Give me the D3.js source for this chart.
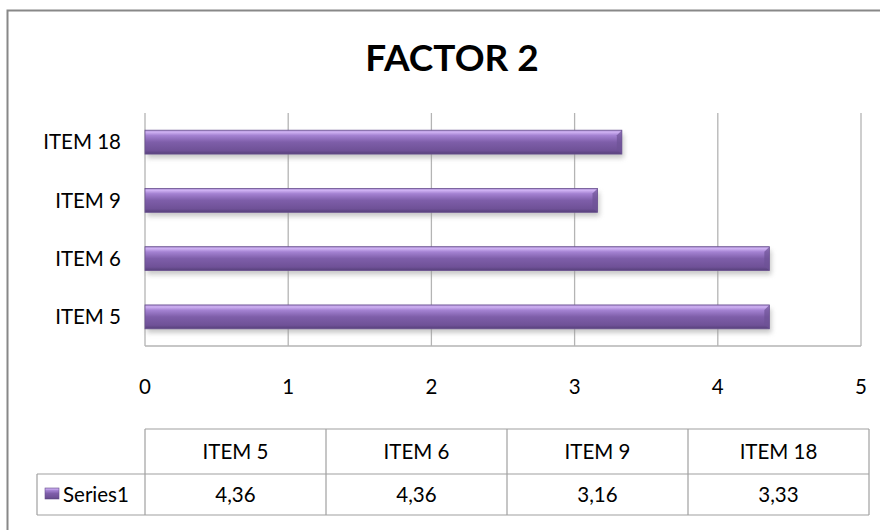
<!DOCTYPE html>
<html>
<head>
<meta charset="utf-8">
<title>FACTOR 2</title>
<style>
  body { margin: 0; background: #fff; }
  text { font-family: Lato, "Open Sans", sans-serif; fill: #000; }
</style>
</head>
<body>
<div id="chart"></div>
<script src="https://cdn.jsdelivr.net/npm/d3@7"></script>
<script>
var categories = ['ITEM 5', 'ITEM 6', 'ITEM 9', 'ITEM 18'];
var values = [4.36, 4.36, 3.16, 3.33];
var valueLabels = ['4,36', '4,36', '3,16', '3,33'];
var ticks = [0, 1, 2, 3, 4, 5];
var seriesName = 'Series1';

var width = 880, height = 530;
var plot = { left: 145, right: 861, top: 113, bottom: 346 };
var fs = '20.5px';

var svg = d3.select('#chart').append('svg')
  .attr('width', width).attr('height', height);

var defs = svg.append('defs');
var grad = defs.append('linearGradient').attr('id', 'barGrad')
  .attr('x1', 0).attr('y1', 0).attr('x2', 0).attr('y2', 1);
[[0, '#a98bd0'], [0.08, '#cfb2f3'], [0.22, '#a482d2'], [0.5, '#7e5ea9'],
 [0.85, '#6f5197'], [1, '#56407a']].forEach(function(s) {
  grad.append('stop').attr('offset', s[0]).attr('stop-color', s[1]);
});
var blur = defs.append('filter').attr('id', 'shadow')
  .attr('x', '-5%').attr('y', '-50%').attr('width', '110%').attr('height', '200%');
blur.append('feGaussianBlur').attr('stdDeviation', 2.5);

// outer frame
svg.append('rect').attr('x', 7.5).attr('y', 10.5)
  .attr('width', 900).attr('height', 600)
  .attr('fill', 'none').attr('stroke', '#888').attr('stroke-width', 2);

svg.append('text').attr('x', 452).attr('y', 71)
  .attr('text-anchor', 'middle').style('font-size', '37px').style('font-weight', 'bold')
  .text('FACTOR 2');

var x = d3.scaleLinear().domain([0, 5]).range([plot.left, plot.right]);
var y = d3.scaleBand().domain(categories.slice().reverse())
  .range([plot.top, plot.bottom]).paddingInner(0.59).paddingOuter(0.295);

// gridlines
svg.append('g').selectAll('line').data(ticks).enter().append('line')
  .attr('x1', function(d) { return x(d); }).attr('x2', function(d) { return x(d); })
  .attr('y1', plot.top).attr('y2', plot.bottom)
  .attr('stroke', '#b4b4b4').attr('stroke-width', 1.3);
svg.append('line').attr('x1', plot.left).attr('x2', plot.right)
  .attr('y1', plot.bottom).attr('y2', plot.bottom)
  .attr('stroke', '#b4b4b4').attr('stroke-width', 1.3);

var data = categories.map(function(c, i) { return { cat: c, v: values[i] }; });

// shadows
svg.append('g').selectAll('rect').data(data).enter().append('rect')
  .attr('x', x(0) + 2).attr('y', function(d) { return y(d.cat) + 4; })
  .attr('width', function(d) { return x(d.v) - x(0); })
  .attr('height', y.bandwidth())
  .attr('fill', '#999').attr('opacity', 0.55).attr('filter', 'url(#shadow)');

svg.append('g').selectAll('rect').data(data).enter().append('rect')
  .attr('x', x(0)).attr('y', function(d) { return y(d.cat); })
  .attr('width', function(d) { return x(d.v) - x(0); })
  .attr('height', y.bandwidth())
  .attr('fill', 'url(#barGrad)').attr('stroke', '#6a5290').attr('stroke-width', 0.8);

// bevel at bar ends
svg.append('g').selectAll('path').data(data).enter().append('path')
  .attr('d', function(d) {
    var x1 = x(d.v), t = y(d.cat), h = y.bandwidth();
    return 'M' + (x1 - 5) + ',' + (t + 5) + 'L' + x1 + ',' + t + 'L' + x1 + ',' + (t + h) + 'L' + (x1 - 5) + ',' + (t + h - 4) + 'Z';
  })
  .attr('fill', '#6d5296').attr('opacity', 0.7);

// category labels
svg.append('g').selectAll('text').data(categories).enter().append('text')
  .attr('x', 121).attr('y', function(d) { return y(d) + y.bandwidth() / 2; })
  .attr('dy', '0.35em').attr('text-anchor', 'end').style('font-size', fs)
  .text(function(d) { return d; });

// value axis labels
svg.append('g').selectAll('text').data(ticks).enter().append('text')
  .attr('x', function(d) { return x(d); }).attr('y', 394)
  .attr('text-anchor', 'middle').style('font-size', fs)
  .text(function(d) { return d; });

// data table
var table = { left: 145, right: 869, top: 429, mid: 474, bottom: 515, legendLeft: 37 };
var col = d3.scaleBand().domain(categories).range([table.left, table.right]);
var tg = svg.append('g').attr('stroke', '#a0a0a0').attr('stroke-width', 1.2);
tg.append('line').attr('x1', table.left).attr('x2', table.right).attr('y1', table.top).attr('y2', table.top);
tg.append('line').attr('x1', table.legendLeft).attr('x2', table.right).attr('y1', table.mid).attr('y2', table.mid);
tg.append('line').attr('x1', table.legendLeft).attr('x2', table.right).attr('y1', table.bottom).attr('y2', table.bottom);
tg.append('line').attr('x1', table.legendLeft).attr('x2', table.legendLeft).attr('y1', table.mid).attr('y2', table.bottom);
tg.selectAll('line.v').data(categories.concat(['end'])).enter().append('line')
  .attr('x1', function(d) { return d === 'end' ? table.right : col(d); })
  .attr('x2', function(d) { return d === 'end' ? table.right : col(d); })
  .attr('y1', table.top).attr('y2', table.bottom);

svg.append('g').selectAll('text').data(categories).enter().append('text')
  .attr('x', function(d) { return col(d) + col.bandwidth() / 2; })
  .attr('y', (table.top + table.mid) / 2).attr('dy', '0.35em')
  .attr('text-anchor', 'middle').style('font-size', fs)
  .text(function(d) { return d; });
svg.append('g').selectAll('text').data(valueLabels).enter().append('text')
  .attr('x', function(d, i) { return col(categories[i]) + col.bandwidth() / 2; })
  .attr('y', (table.mid + table.bottom) / 2).attr('dy', '0.35em')
  .attr('text-anchor', 'middle').style('font-size', fs)
  .text(function(d) { return d; });

svg.append('rect').attr('x', 45).attr('y', 488).attr('width', 14).attr('height', 11)
  .attr('fill', 'url(#barGrad)').attr('stroke', '#6a5290').attr('stroke-width', 0.6);
svg.append('text').attr('x', 63).attr('y', (table.mid + table.bottom) / 2).attr('dy', '0.35em')
  .style('font-size', fs).text(seriesName);
</script>
</body>
</html>
